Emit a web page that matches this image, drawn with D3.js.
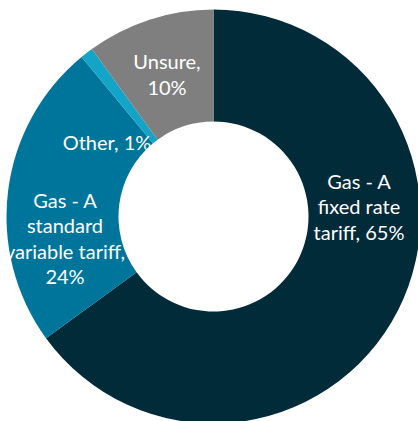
<!DOCTYPE html>
<html>
<head>
<meta charset="utf-8">
<script src="https://cdn.jsdelivr.net/npm/d3@7"></script>
<style>
  html, body { margin: 0; padding: 0; background: #ffffff; overflow: hidden; }
  svg { display: block; }
</style>
</head>
<body>
<svg id="chart" width="418" height="421"></svg>
<script>
// Gas tariff type shares, clockwise from 12 o'clock
const categories = ["Gas - A fixed rate tariff", "Gas - A standard variable tariff", "Other", "Unsure"];
const shares = [65, 24, 1, 10];
const colors = ["#022b3a", "#00759b", "#13a4c8", "#7f7f7f"];

// Label lines per slice and where each block is centred
const labelLines = [
  ["Gas - A", "fixed rate", "tariff, 65%"],
  ["Gas - A", "standard", "variable tariff,", "24%"],
  ["Other, 1%"],
  ["Unsure,", "10%"]
];
const labelCentres = [[359, 207], [65, 239], [107, 143], [167, 75]];

const width = 418, height = 421;
const cx = 213.5, cy = 216.5;
const outerR = 207, innerR = 95;
const lineH = 25.5;

const svg = d3.select("#chart");
const g = svg.append("g").attr("transform", `translate(${cx},${cy})`);

const pie = d3.pie().sort(null).value(d => d.value);
const arc = d3.arc().innerRadius(innerR).outerRadius(outerR);

const data = categories.map((c, i) => ({ name: c, value: shares[i], color: colors[i] }));

g.selectAll("path.slice")
  .data(pie(data))
  .join("path")
  .attr("class", "slice")
  .attr("d", arc)
  .attr("fill", d => d.data.color);

// Data labels (white, Calibri-like)
const labels = svg.append("g")
  .attr("font-family", "Lato, 'Open Sans', sans-serif")
  .attr("font-size", 20)
  .attr("fill", "#ffffff")
  .attr("text-anchor", "middle");

labelLines.forEach((lines, i) => {
  const [lx, ly] = labelCentres[i];
  const top = ly - (lines.length - 1) * lineH / 2;
  const t = labels.append("text");
  lines.forEach((ln, j) => {
    t.append("tspan")
      .attr("x", lx)
      .attr("y", top + j * lineH)
      .attr("dy", "0.35em")
      .text(ln);
  });
});
</script>
</body>
</html>
